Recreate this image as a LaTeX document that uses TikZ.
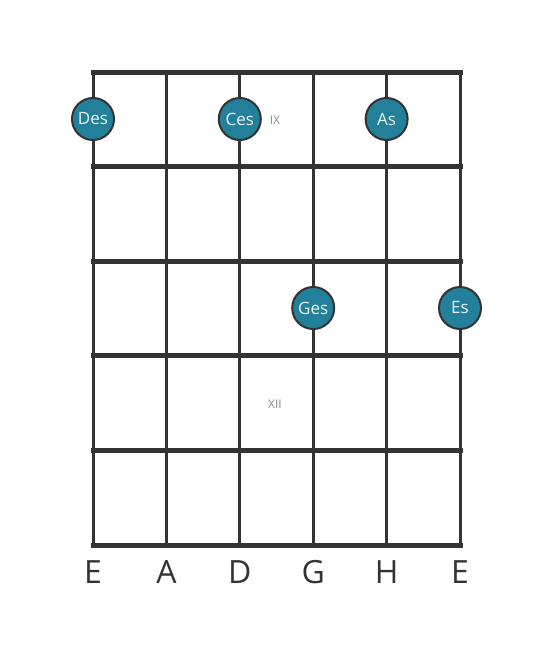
\documentclass[tikz,border=0pt]{standalone}
\usepackage{fontspec}
\setmainfont{Open Sans}
\usetikzlibrary{positioning}
\definecolor{gridGray}{HTML}{333333}
\definecolor{noteTeal}{HTML}{23809A}
\definecolor{noteText}{HTML}{E6F6FA}
\definecolor{markGray}{HTML}{8A8A8A}

\begin{document}
\begin{tikzpicture}[x=1pt, y=-1pt]
    \useasboundingbox (0,0) rectangle (553,656);
    \tikzset{
        note/.style={circle, draw=gridGray, line width=2pt, fill=noteTeal, text=noteText,
            minimum size=42pt, inner sep=0pt, font=\fontsize{17}{17}\selectfont},
        fretmark/.style={text=markGray, font=\fontsize{12}{12}\selectfont},
        stringname/.style={text=gridGray, font=\fontsize{32}{32}\selectfont}
    }
    % strings
    \foreach \s/\x in {0/93,1/166.4,2/239.8,3/313.2,4/386.6,5/460} {
        \coordinate (S-\s-top) at (\x,72);
        \coordinate (S-\s-bot) at (\x,545);
        \draw[gridGray, line width=3pt] (S-\s-top) -- (S-\s-bot);
    }
    % frets
    \foreach \f/\y in {0/72,1/166.6,2/261.2,3/355.8,4/450.4,5/545} {
        \coordinate (F-\f-l) at (93,\y);
        \coordinate (F-\f-r) at (460,\y);
        \draw[gridGray, line width=5pt, line cap=rect] (F-\f-l) -- (F-\f-r);
    }
    % position marks
    \node[fretmark] (mark-IX) at (275,120) {IX};
    \node[fretmark] (mark-XII) at (275,404) {XII};
    % notes
    \node[note] (Des) at (93,119) {Des};
    \node[note] (Ces) at (239.8,119) {Ces};
    \node[note] (As) at (386.6,119) {As};
    \node[note] (Ges) at (313.2,308) {Ges};
    \node[note] (Es) at (460,308) {Es};
    % string names
    \foreach \s/\n in {0/E,1/A,2/D,3/G,4/H,5/E} {
        \node[stringname, below=12pt of S-\s-bot] (name-\s) {\n};
    }
\end{tikzpicture}
\end{document}
